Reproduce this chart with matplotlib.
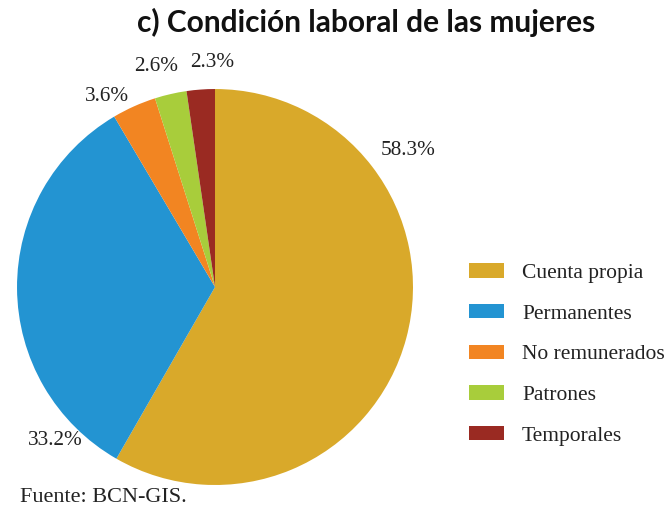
import matplotlib
matplotlib.use("Agg")
import matplotlib.pyplot as plt
from matplotlib.patches import Patch

categories = ["Cuenta propia", "Permanentes", "No remunerados", "Patrones", "Temporales"]
values = [58.3, 33.2, 3.6, 2.6, 2.3]
pct_labels = ["58.3%", "33.2%", "3.6%", "2.6%", "2.3%"]
colors = ["#D9A92A", "#2394D2", "#F28522", "#A8CD3B", "#9A2A22"]
label_pos = [(0.975, 0.692), (-0.808, -0.773), (-0.545, 0.96), (-0.298, 1.116), (-0.015, 1.136)]

serif = ["Liberation Serif", "DejaVu Serif"]

fig = plt.figure(figsize=(6.67, 5.07), dpi=100)
ax = fig.add_axes([0.0255, 0.0434, 0.5937, 0.781])
ax.pie(values, colors=colors, startangle=90, counterclock=False,
       wedgeprops=dict(linewidth=0))
ax.set_xlim(-1, 1)
ax.set_ylim(-1, 1)
ax.set_aspect("equal")
ax.axis("off")
for (x, y), t in zip(label_pos, pct_labels):
    ax.text(x, y, t, ha="center", va="center", fontsize=15.3, family=serif, color="#222222", clip_on=False)

fig.text(0.549, 0.956, "c) Condición laboral de las mujeres", ha="center", va="center",
         fontsize=21.5, fontweight="bold", family=["Lato", "DejaVu Sans"], color="#111111")
fig.text(0.03, 0.019, "Fuente: BCN-GIS.", ha="left", va="center", fontsize=16, family=serif, color="#222222")

handles = [Patch(facecolor=c, edgecolor="none") for c in colors]
leg = fig.legend(handles, categories, loc="center left", bbox_to_anchor=(0.674, 0.301),
                 frameon=False, prop={"family": serif, "size": 15.5},
                 handlelength=1.63, handleheight=0.65, labelspacing=0.97, handletextpad=0.84)
for t in leg.get_texts():
    t.set_color("#222222")

fig.savefig("out.png", dpi=100)
